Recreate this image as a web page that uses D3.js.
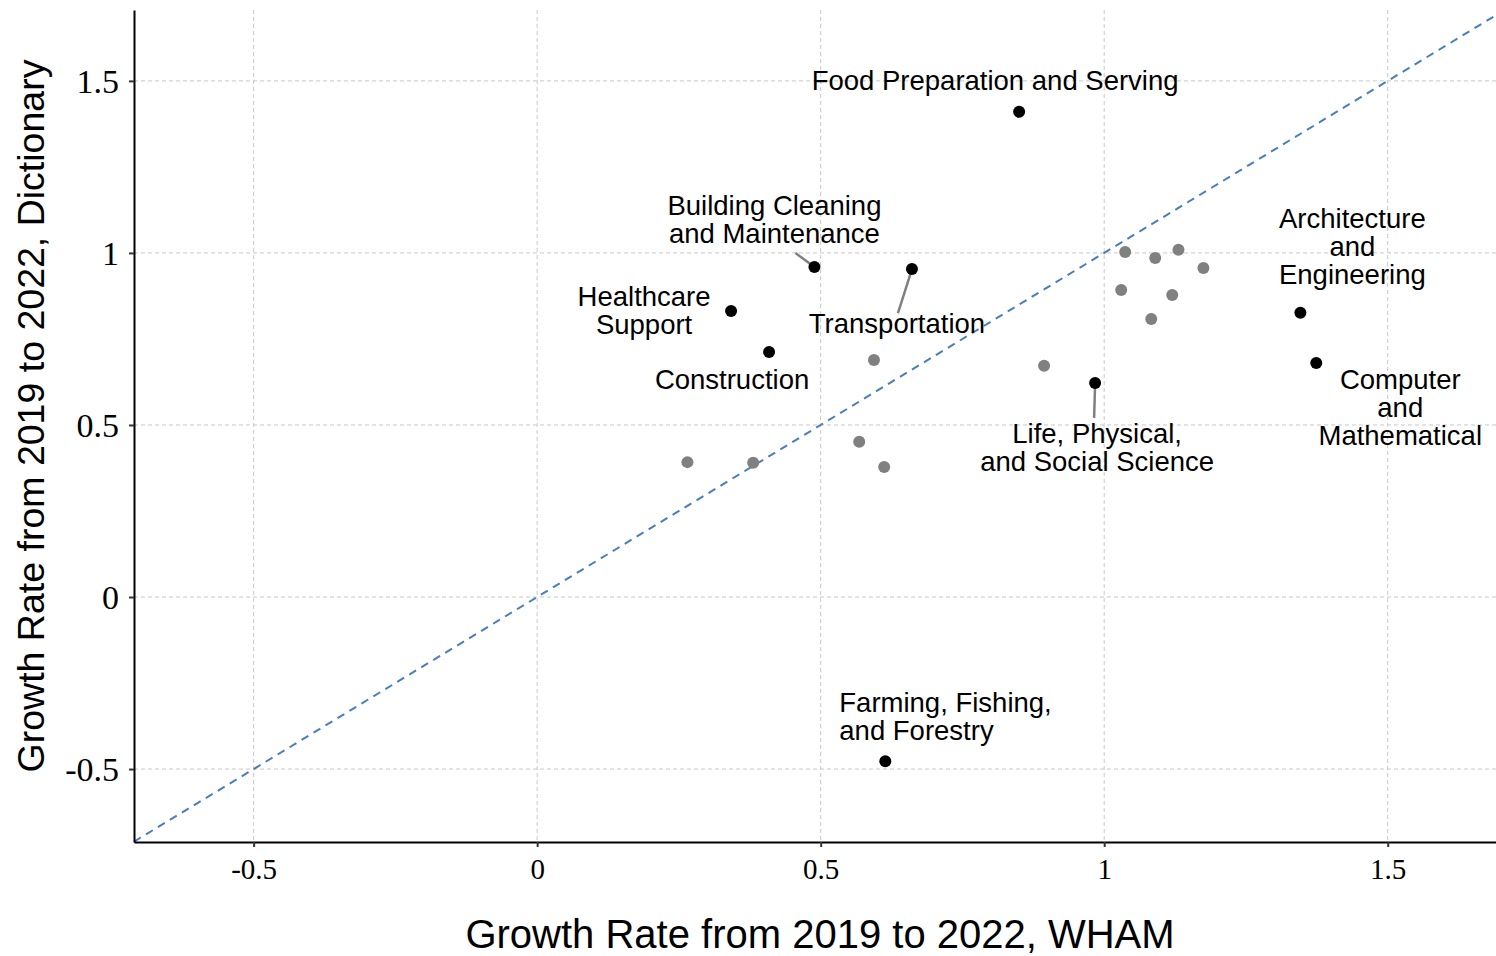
<!DOCTYPE html>
<html>
<head>
<meta charset="utf-8">
<script src="https://cdn.jsdelivr.net/npm/d3@7"></script>
<style>
body { margin: 0; background: #fff; }
svg { display: block; }
</style>
</head>
<body>
<script>
// labelled occupation groups
var labelledNames = ["Food Preparation and Serving", "Building Cleaning and Maintenance", "Transportation",
	"Healthcare Support", "Construction", "Life, Physical, and Social Science",
	"Architecture and Engineering", "Computer and Mathematical", "Farming, Fishing, and Forestry"];
var labelledWham = [0.850, 0.489, 0.661, 0.342, 0.409, 0.984, 1.346, 1.374, 0.614];
var labelledDict = [1.410, 0.959, 0.953, 0.831, 0.712, 0.622, 0.826, 0.680, -0.477];

// other occupation groups (grey)
var otherWham = [0.265, 0.381, 0.568, 0.612, 0.594, 0.894, 1.030, 1.037, 1.090, 1.131, 1.175, 1.120, 1.083];
var otherDict = [0.392, 0.390, 0.451, 0.378, 0.689, 0.672, 0.892, 1.003, 0.985, 1.009, 0.956, 0.878, 0.808];

var tickValues = [-0.5, 0, 0.5, 1, 1.5];
var tickLabels = ["-0.5", "0", "0.5", "1", "1.5"];

// label placement: pixel offset of the first line's baseline from the point
var labelLines = [
	["Food Preparation and Serving"],
	["Building Cleaning", "and Maintenance"],
	["Transportation"],
	["Healthcare", "Support"],
	["Construction"],
	["Life, Physical,", "and Social Science"],
	["Architecture", "and", "Engineering"],
	["Computer", "and", "Mathematical"],
	["Farming, Fishing,", "and Forestry"]
];
var labelPos = [
	{dx: -24, dy: -22, anchor: "middle"},
	{dx: -40, dy: -52, anchor: "middle"},
	{dx: -15, dy: 64, anchor: "middle"},
	{dx: -87, dy: -5, anchor: "middle"},
	{dx: -37, dy: 37, anchor: "middle"},
	{dx: 2, dy: 60, anchor: "middle"},
	{dx: 52, dy: -85, anchor: "middle"},
	{dx: 84, dy: 26, anchor: "middle"},
	{dx: -46, dy: -49, anchor: "start"}
];
var leaders = [null, [-19, -14], [-14, 44], null, null, [-1, 35], null, null, null];

var W = 1496, H = 956;
var margin = {left: 134, right: 0, top: 10, bottom: 114};

var svg = d3.select("body").append("svg").attr("width", W).attr("height", H);

var x = d3.scaleLinear().domain([-0.711, 1.691]).range([margin.left, W - margin.right]);
var y = d3.scaleLinear().domain([-0.712, 1.706]).range([H - margin.bottom, margin.top]);

// grid
var grid = svg.append("g");
tickValues.forEach(function(v){
	grid.append("line")
		.attr("x1", x(v)).attr("x2", x(v))
		.attr("y1", y.range()[1]).attr("y2", y.range()[0])
		.attr("stroke", "#c8c8c8").attr("stroke-width", 1).attr("stroke-dasharray", "4,3");
	grid.append("line")
		.attr("x1", x.range()[0]).attr("x2", x.range()[1])
		.attr("y1", y(v)).attr("y2", y(v))
		.attr("stroke", "#c8c8c8").attr("stroke-width", 1).attr("stroke-dasharray", "4,3");
});

// 45 degree line
var lo = Math.max(x.domain()[0], y.domain()[0]);
var hi = Math.min(x.domain()[1], y.domain()[1]);
svg.append("line")
	.attr("x1", x(lo)).attr("y1", y(lo))
	.attr("x2", x(hi)).attr("y2", y(hi))
	.attr("stroke", "#4a7ebb").attr("stroke-width", 2).attr("stroke-dasharray", "8,6");

// axes
var xAxis = d3.axisBottom(x).tickValues(tickValues).tickFormat(function(d, i){ return tickLabels[i]; }).tickSize(5).tickSizeOuter(0);
var yAxis = d3.axisLeft(y).tickValues(tickValues).tickFormat(function(d, i){ return tickLabels[i]; }).tickSize(5).tickSizeOuter(0);

var gx = svg.append("g").attr("transform", "translate(0," + y.range()[0] + ")").call(xAxis);
var gy = svg.append("g").attr("transform", "translate(" + x.range()[0] + ",0)").call(yAxis);

[gx, gy].forEach(function(g){
	g.select(".domain").attr("stroke", "#000").attr("stroke-width", 2);
	g.selectAll(".tick line").attr("stroke", "#333").attr("stroke-width", 2);
	g.selectAll(".tick text")
		.attr("fill", "#000")
		.style("font-family", "'Liberation Serif', 'Times New Roman', serif");
});
gx.selectAll(".tick text").attr("dy", "0").attr("y", 37).style("font-size", "29px");
gy.selectAll(".tick text").attr("x", -15).attr("dy", "0.34em").style("font-size", "34px");

// axis titles
svg.append("text")
	.attr("x", 820).attr("y", 948)
	.attr("text-anchor", "middle")
	.style("font-family", "'Liberation Sans', Arial, sans-serif")
	.style("font-size", "40px")
	.text("Growth Rate from 2019 to 2022, WHAM");

svg.append("text")
	.attr("transform", "translate(44,416) rotate(-90)")
	.attr("text-anchor", "middle")
	.style("font-family", "'Liberation Sans', Arial, sans-serif")
	.style("font-size", "37.5px")
	.text("Growth Rate from 2019 to 2022, Dictionary");

// grey points
svg.append("g").selectAll("circle")
	.data(otherWham)
	.enter().append("circle")
	.attr("cx", function(d){ return x(d); })
	.attr("cy", function(d, i){ return y(otherDict[i]); })
	.attr("r", 6)
	.attr("fill", "#808080");

// leader lines
labelledWham.forEach(function(d, i){
	if(!leaders[i]) return;
	svg.append("line")
		.attr("x1", x(d)).attr("y1", y(labelledDict[i]))
		.attr("x2", x(d) + leaders[i][0]).attr("y2", y(labelledDict[i]) + leaders[i][1])
		.attr("stroke", "#808080").attr("stroke-width", 2.5);
});

// labelled points
svg.append("g").selectAll("circle")
	.data(labelledWham)
	.enter().append("circle")
	.attr("cx", function(d){ return x(d); })
	.attr("cy", function(d, i){ return y(labelledDict[i]); })
	.attr("r", 6)
	.attr("fill", "#000");

// labels
labelledWham.forEach(function(d, i){
	var p = labelPos[i];
	var t = svg.append("text")
		.attr("text-anchor", p.anchor)
		.style("font-family", "'Liberation Sans', Arial, sans-serif")
		.style("font-size", "27.5px")
		.attr("fill", "#000");
	labelLines[i].forEach(function(line, j){
		t.append("tspan")
			.attr("x", x(d) + p.dx)
			.attr("y", y(labelledDict[i]) + p.dy + j * 28)
			.text(line);
	});
});
</script>
</body>
</html>
